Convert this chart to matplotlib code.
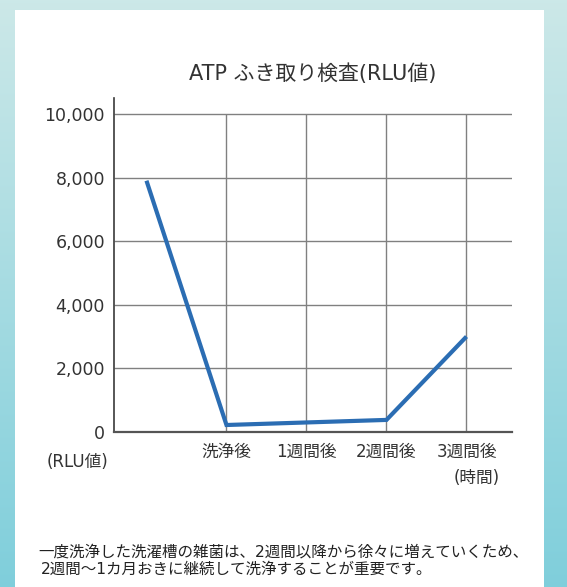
import numpy as np
import matplotlib
matplotlib.use("Agg")
import matplotlib.pyplot as plt
from matplotlib.patches import Rectangle

plt.rcParams['font.family'] = ['DejaVu Sans', 'Noto Sans CJK JP']

# ---- data ----
categories = ["", "洗浄後", "1週間後", "2週間後", "3週間後"]
rlu_values = [7900, 220, 300, 380, 3000]
y_ticks = [0, 2000, 4000, 6000, 8000, 10000]
y_tick_labels = ["0", "2,000", "4,000", "6,000", "8,000", "10,000"]
title = "ATP ふき取り検査(RLU値)"
y_unit = "(RLU値)"
x_unit = "(時間)"
note_lines = ["一度洗浄した洗濯槽の雑菌は、2週間以降から徐々に増えていくため、",
              "2週間〜1カ月おきに継続して洗浄することが重要です。"]

W, H = 567, 587
fig = plt.figure(figsize=(W / 100, H / 100), dpi=100)

# background (light cyan gradient) + white panel
bg = fig.add_axes([0, 0, 1, 1])
top_c = np.array([0.80, 0.91, 0.91])
bot_c = np.array([0.50, 0.81, 0.86])
t = np.linspace(0, 1, 200)[:, None]
grad = (top_c[None, :] * (1 - t) + bot_c[None, :] * t)[:, None, :].repeat(2, axis=1)
bg.imshow(grad, aspect='auto', extent=[0, 1, 0, 1], origin='upper')
bg.add_patch(Rectangle((15 / W, 0), (544 - 15) / W, (H - 10) / H,
                       transform=bg.transAxes, facecolor='white', edgecolor='none'))
bg.set_xlim(0, 1)
bg.set_ylim(0, 1)
bg.axis('off')

# main axes
x0, x1 = 114, 512
y_bottom, y_top = 432, 98
ax = fig.add_axes([x0 / W, 1 - y_bottom / H, (x1 - x0) / W, (y_bottom - y_top) / H])
ax.patch.set_alpha(0)
ax.set_zorder(2)

x = np.arange(len(categories))
ax.set_xlim(-0.406, 4.569)
ax.set_ylim(0, 10500)

grid_c = '#808080'
ax.hlines(y_ticks[1:], 0, 1, transform=ax.get_yaxis_transform(), color=grid_c, lw=1.0, zorder=1)
ax.vlines(x[1:], 0, y_ticks[-1], color=grid_c, lw=1.0, zorder=1)

ax.plot(x, rlu_values, color='#2b6db3', lw=3.0, solid_capstyle='butt',
        solid_joinstyle='miter', zorder=3)

for s in ['top', 'right']:
    ax.spines[s].set_visible(False)
ax.spines['left'].set_color('#3a3a3a')
ax.spines['left'].set_linewidth(1.2)
ax.spines['bottom'].set_color('#555555')
ax.spines['bottom'].set_linewidth(1.6)
ax.spines['bottom'].set_zorder(4)

ax.set_yticks(y_ticks)
ax.set_yticklabels(y_tick_labels, fontsize=12.5, color='#333333')
ax.set_xticks(x)
ax.set_xticklabels(categories, fontsize=12, color='#333333')
ax.tick_params(axis='y', length=0, pad=6.5)
ax.tick_params(axis='x', length=0, pad=8)

fig.text(313 / W, 1 - 74 / H, title, ha='center', va='center', fontsize=15, color='#333333')
fig.text(77 / W, 1 - 462 / H, y_unit, ha='center', va='center', fontsize=12, color='#333333')
fig.text(477 / W, 1 - 478 / H, x_unit, ha='center', va='center', fontsize=12, color='#333333')
fig.text(38 / W, 1 - 552 / H, note_lines[0], ha='left', va='center', fontsize=11.2, color='#222222')
fig.text(41 / W, 1 - 569 / H, note_lines[1], ha='left', va='center', fontsize=11.2, color='#222222')

fig.savefig("out.png", dpi=100)
